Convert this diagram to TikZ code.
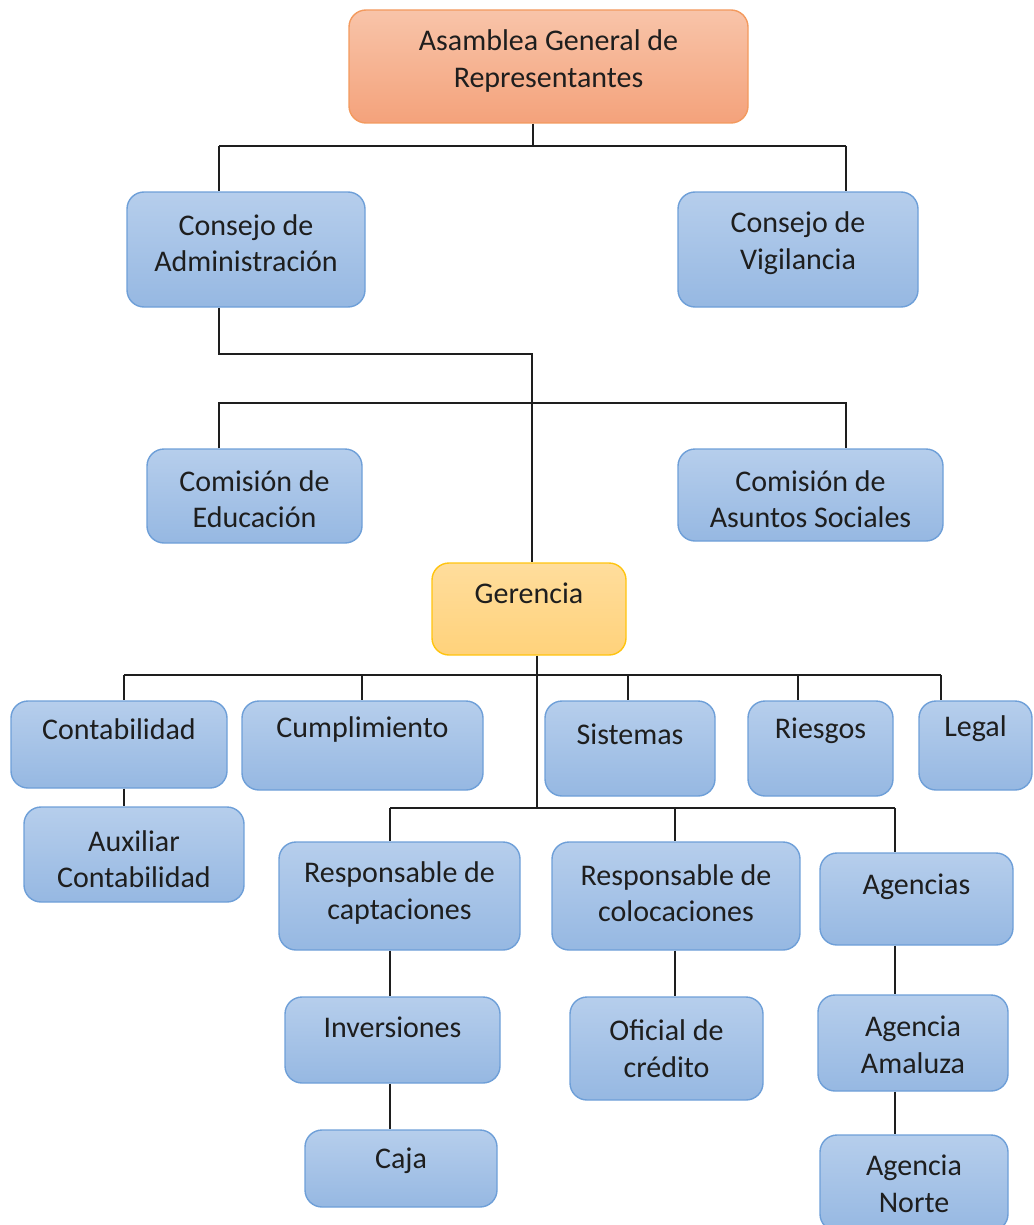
\documentclass[tikz,border=0pt]{standalone}
\usepackage{fontspec}
\setmainfont{Carlito}
\definecolor{ink}{HTML}{1E1E1E}
\definecolor{boxline}{HTML}{6E9FD8}
\definecolor{boxtop}{HTML}{B6CEEC}
\definecolor{boxbot}{HTML}{96B8E2}
\definecolor{orline}{HTML}{F39A5E}
\definecolor{ortop}{HTML}{F8C4A9}
\definecolor{orbot}{HTML}{F4A27B}
\definecolor{yeline}{HTML}{FFC40F}
\definecolor{yetop}{HTML}{FFDD9C}
\definecolor{yebot}{HTML}{FFD27B}
% box node: style, name, centre x, centre y (downwards), width, height, text shift, text
\newcommand\orgnode[8]{%
  \node[#1, minimum width=#5pt, minimum height=#6pt,
        label={[txt, yshift=#7pt]center:{#8}}] (#2) at (#3,-#4) {};}
\begin{document}
\begin{tikzpicture}[x=1pt,y=1pt,
  box/.style={draw=boxline, line width=1.4pt, rounded corners=17pt,
              top color=boxtop, bottom color=boxbot, inner sep=0pt},
  orangebox/.style={box, draw=orline, top color=ortop, bottom color=orbot},
  yellowbox/.style={box, draw=yeline, top color=yetop, bottom color=yebot},
  txt/.style={align=center, font=\fontsize{30}{36.5}\selectfont, text=ink, inner sep=0pt},
  conn/.style={draw=ink, line width=2.4pt}
]
\useasboundingbox (0,0) rectangle (1033,-1225);

% connector columns and bus points
\coordinate (c219) at (219,-146);
\coordinate (c846) at (846,-146);
\coordinate (c533) at (533,-146);
\coordinate (j2)   at (532,-354);
\coordinate (b3l)  at (219,-403);
\coordinate (b3r)  at (846,-403);
\coordinate (g1)   at (537,-675);
\coordinate (d124) at (124,-675);
\coordinate (d362) at (362,-675);
\coordinate (d628) at (628,-675);
\coordinate (d798) at (798,-675);
\coordinate (d941) at (941,-675);
\coordinate (g2)   at (537,-808);
\coordinate (e390) at (390,-808);
\coordinate (e675) at (675,-808);
\coordinate (e895) at (895,-808);

% boxes
\orgnode{orangebox}{asam}{548.5}{66.5}{399}{113}{5.5}{Asamblea General de\\Representantes}
\orgnode{box}{cadm}{246}{249.5}{238}{115}{6.5}{Consejo de\\Administración}
\orgnode{box}{cvig}{798}{249.5}{240}{115}{6.5}{Consejo de\\Vigilancia}
\orgnode{box}{cedu}{254.5}{496}{215}{94}{-3}{Comisión de\\Educación}
\orgnode{box}{casu}{810.5}{495}{265}{92}{-4}{Comisión de\\Asuntos Sociales}
\orgnode{yellowbox}{ger}{529}{609}{194}{92}{16}{Gerencia}
\orgnode{box}{cont}{119}{744.5}{216}{87}{15.5}{Contabilidad}
\orgnode{box}{cump}{362.5}{745.5}{241}{89}{16.5}{Cumplimiento}
\orgnode{box}{sist}{630}{748.5}{170}{95}{14.5}{Sistemas}
\orgnode{box}{ries}{820.5}{748.5}{145}{95}{17.5}{Riesgos}
\orgnode{box}{legal}{975.5}{745.5}{113}{89}{16.5}{Legal}
\orgnode{box}{aux}{134}{854.5}{220}{95}{-4.5}{Auxiliar\\Contabilidad}
\orgnode{box}{rcap}{399.5}{896}{241}{108}{3}{Responsable de\\captaciones}
\orgnode{box}{rcol}{676}{896}{248}{108}{3}{Responsable de\\colocaciones}
\orgnode{box}{agen}{916.5}{899}{193}{92}{12}{Agencias}
\orgnode{box}{inv}{392.5}{1040}{215}{86}{13}{Inversiones}
\orgnode{box}{ofc}{666.5}{1048.5}{193}{103}{0}{Oficial de\\crédito}
\orgnode{box}{amal}{913}{1043}{190}{96}{-2}{Agencia\\Amaluza}
\orgnode{box}{caja}{401}{1168.5}{192}{77}{7.5}{Caja}
\orgnode{box}{norte}{914}{1183}{188}{96}{-1}{Agencia\\Norte}

% Asamblea to the two councils
\draw[conn] (asam.south -| c533) -- (c533);
\draw[conn] (c219) -- (c846);
\draw[conn] (c219) -- (cadm.north -| c219);
\draw[conn] (c846) -- (cvig.north -| c846);

% Consejo de Administración to Gerencia, with the commissions
\draw[conn] (cadm.south -| c219) |- (j2) -- (ger.north -| j2);
\draw[conn] (cedu.north -| b3l) -- (b3l) -- (b3r) -- (casu.north -| b3r);

% Gerencia to its departments
\draw[conn] (ger.south -| g1) -- (g2);
\draw[conn] (d124) -- (d941);
\draw[conn] (d124) -- (cont.north -| d124);
\draw[conn] (d362) -- (cump.north -| d362);
\draw[conn] (d628) -- (sist.north -| d628);
\draw[conn] (d798) -- (ries.north -| d798);
\draw[conn] (d941) -- (legal.north -| d941);

% operational branch
\draw[conn] (e390) -- (e895);
\draw[conn] (e390) -- (rcap.north -| e390);
\draw[conn] (e675) -- (rcol.north -| e675);
\draw[conn] (e895) -- (agen.north -| e895);

% sub-units
\draw[conn] (cont.south -| d124) -- (aux.north -| d124);
\draw[conn] (rcap.south -| e390) -- (inv.north -| e390);
\draw[conn] (inv.south -| e390) -- (caja.north -| e390);
\draw[conn] (rcol.south -| e675) -- (ofc.north -| e675);
\draw[conn] (agen.south -| e895) -- (amal.north -| e895);
\draw[conn] (amal.south -| e895) -- (norte.north -| e895);
\end{tikzpicture}
\end{document}
